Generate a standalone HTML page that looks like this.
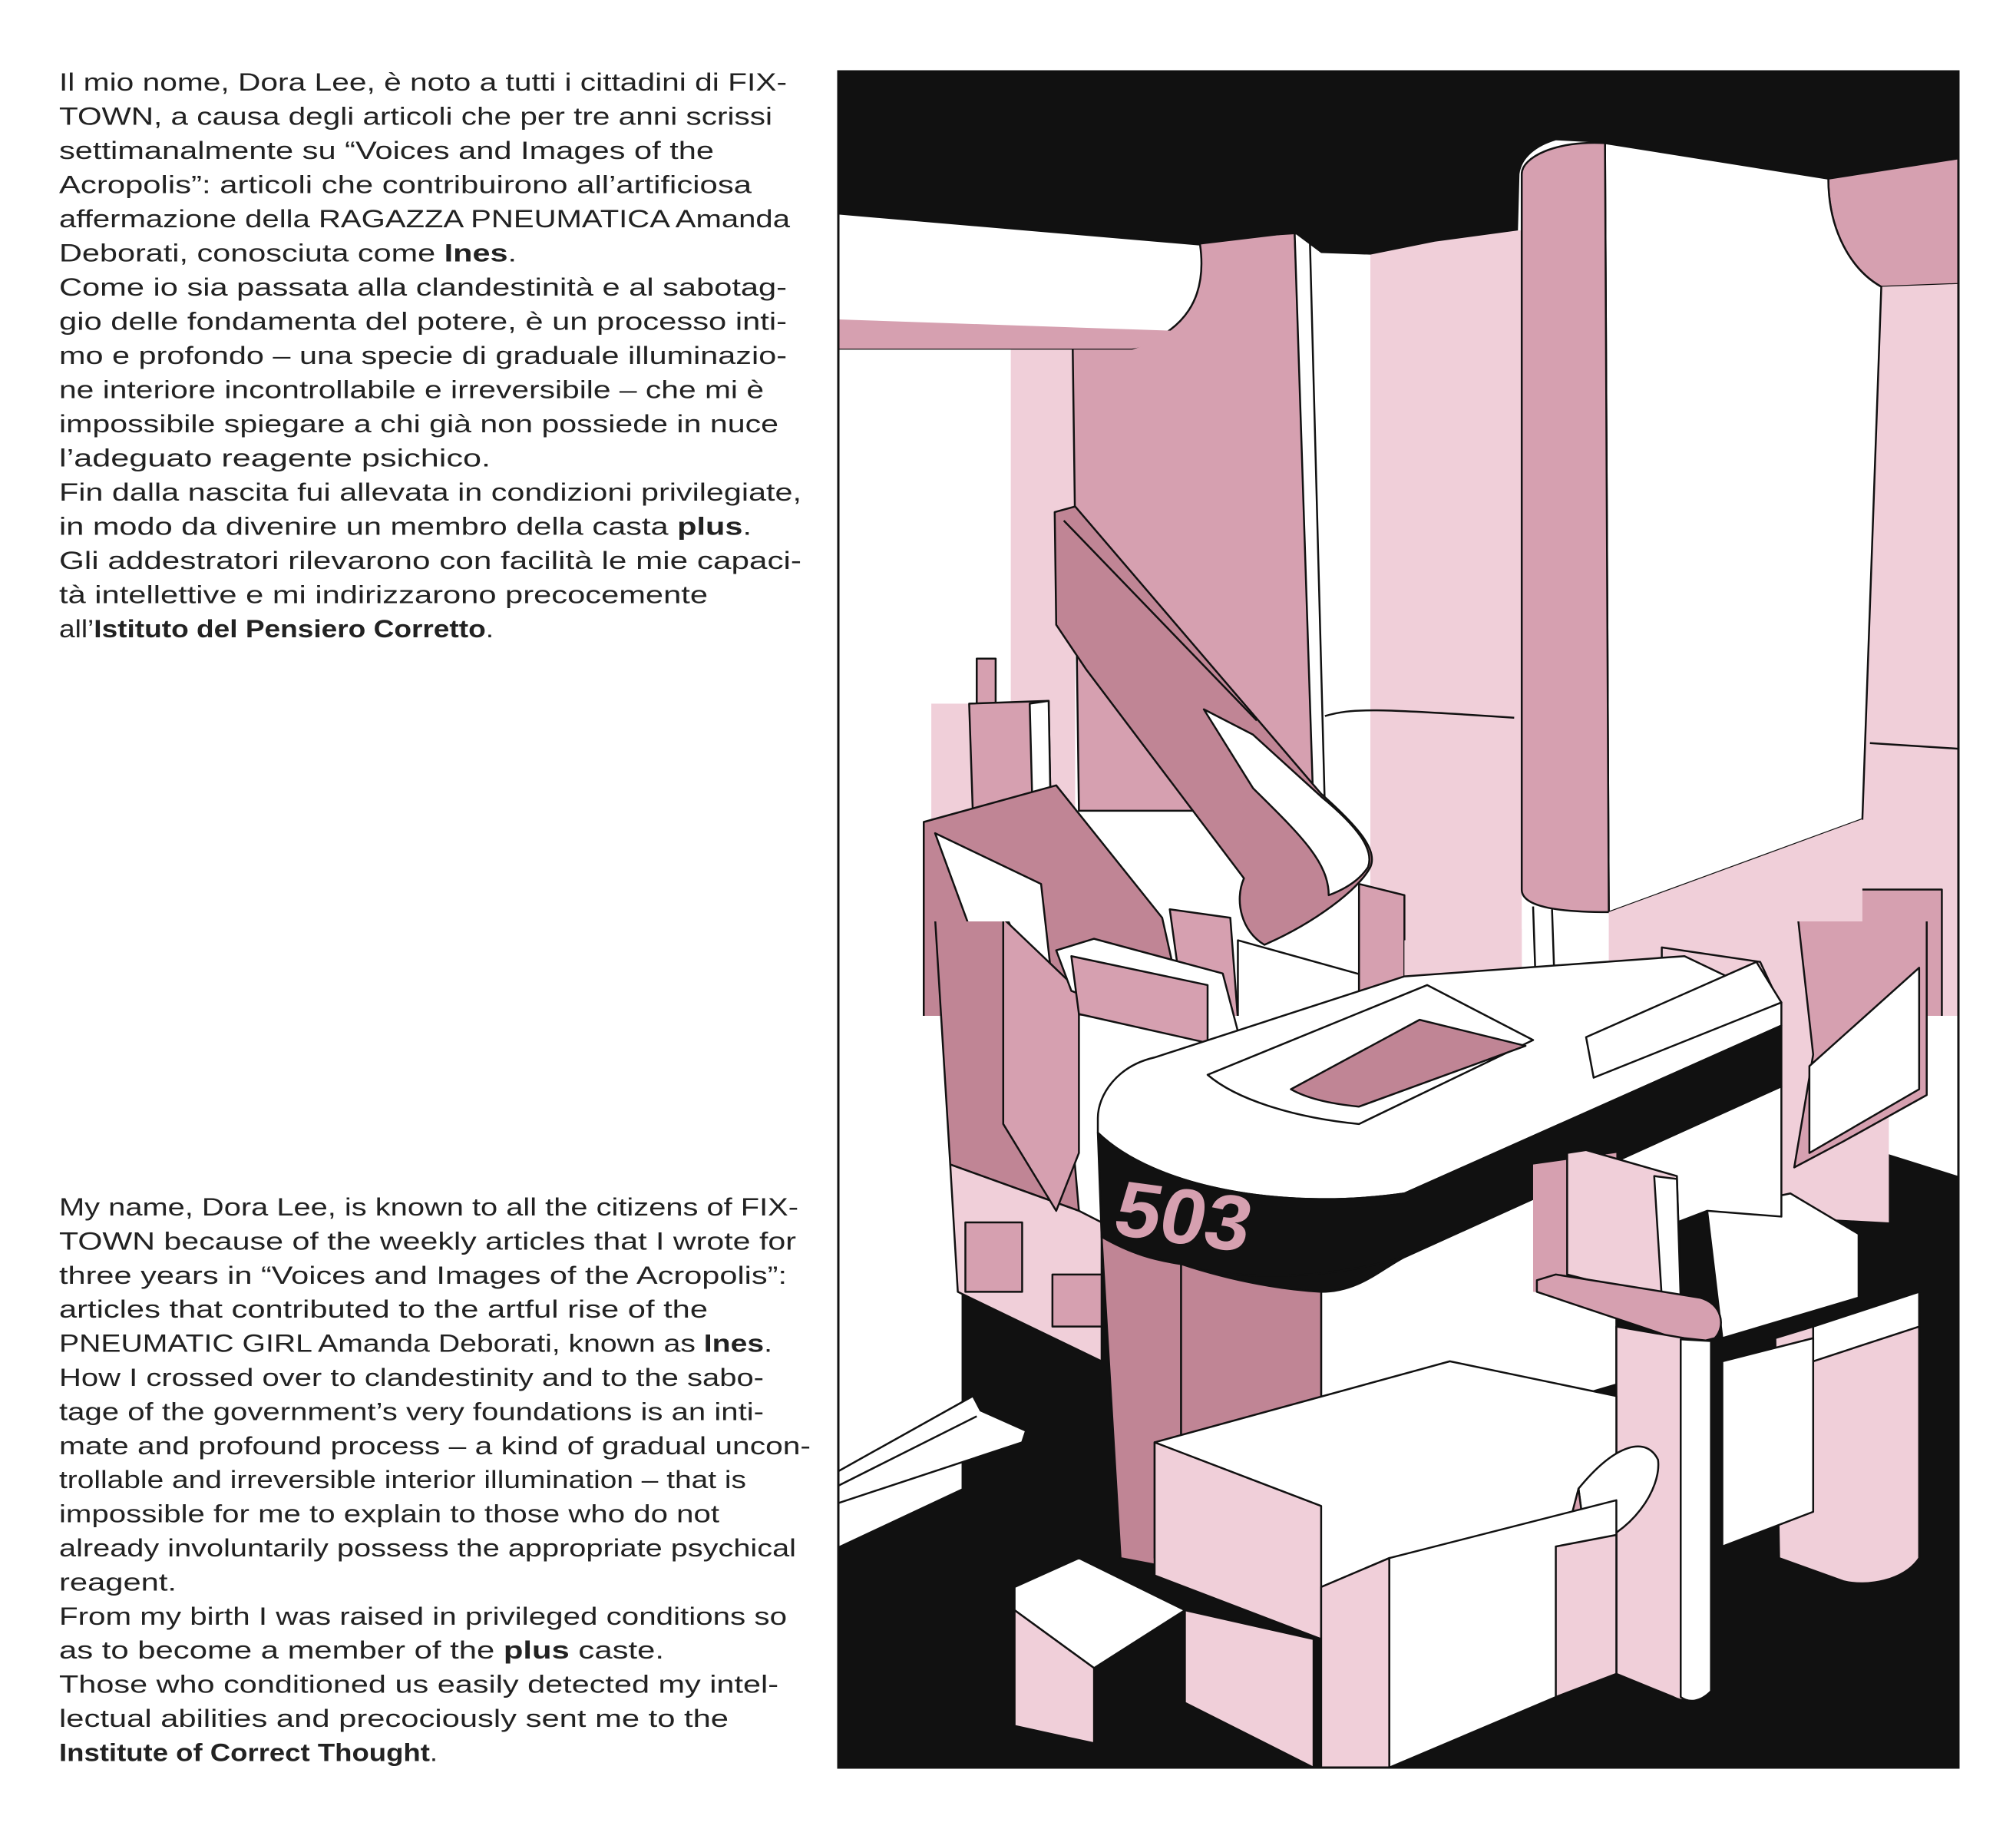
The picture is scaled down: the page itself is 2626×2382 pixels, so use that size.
<!DOCTYPE html>
<html><head><meta charset="utf-8"><style>
html,body{margin:0;padding:0;background:#fff}
svg{display:block}
.t{font-family:"Liberation Sans",sans-serif;font-size:32px;fill:#222}
.b{font-weight:bold}
</style></head><body>
<svg width="2626" height="2382" viewBox="0 0 2626 2382" xmlns="http://www.w3.org/2000/svg">
<defs>
<clipPath id="ca"><rect x="1092" y="93" width="1459" height="1230"/></clipPath>
<clipPath id="cb"><rect x="1092" y="1200" width="1459" height="1102"/></clipPath>
</defs>
<g class="t">
<text x="77" y="118" textLength="948" lengthAdjust="spacingAndGlyphs">Il mio nome, Dora Lee, è noto a tutti i cittadini di FIX-</text>
<text x="77" y="162.5" textLength="929" lengthAdjust="spacingAndGlyphs">TOWN, a causa degli articoli che per tre anni scrissi</text>
<text x="77" y="207" textLength="853" lengthAdjust="spacingAndGlyphs">settimanalmente su “Voices and Images of the</text>
<text x="77" y="251.5" textLength="902" lengthAdjust="spacingAndGlyphs">Acropolis”: articoli che contribuirono all’artificiosa</text>
<text x="77" y="296" textLength="952" lengthAdjust="spacingAndGlyphs">affermazione della RAGAZZA PNEUMATICA Amanda</text>
<text x="77" y="340.5" textLength="596" lengthAdjust="spacingAndGlyphs">Deborati, conosciuta come <tspan class="b">Ines</tspan>.</text>
<text x="77" y="385" textLength="948" lengthAdjust="spacingAndGlyphs">Come io sia passata alla clandestinità e al sabotag-</text>
<text x="77" y="429.5" textLength="948" lengthAdjust="spacingAndGlyphs">gio delle fondamenta del potere, è un processo inti-</text>
<text x="77" y="474" textLength="948" lengthAdjust="spacingAndGlyphs">mo e profondo – una specie di graduale illuminazio-</text>
<text x="77" y="518.5" textLength="918" lengthAdjust="spacingAndGlyphs">ne interiore incontrollabile e irreversibile – che mi è</text>
<text x="77" y="563" textLength="937" lengthAdjust="spacingAndGlyphs">impossibile spiegare a chi già non possiede in nuce</text>
<text x="77" y="607.5" textLength="562" lengthAdjust="spacingAndGlyphs">l’adeguato reagente psichico.</text>
<text x="77" y="652" textLength="967" lengthAdjust="spacingAndGlyphs">Fin dalla nascita fui allevata in condizioni privilegiate,</text>
<text x="77" y="696.5" textLength="902" lengthAdjust="spacingAndGlyphs">in modo da divenire un membro della casta <tspan class="b">plus</tspan>.</text>
<text x="77" y="741" textLength="967" lengthAdjust="spacingAndGlyphs">Gli addestratori rilevarono con facilità le mie capaci-</text>
<text x="77" y="785.5" textLength="845" lengthAdjust="spacingAndGlyphs">tà intellettive e mi indirizzarono precocemente</text>
<text x="77" y="830" textLength="566" lengthAdjust="spacingAndGlyphs">all’<tspan class="b">Istituto del Pensiero Corretto</tspan>.</text>

<text x="77" y="1583" textLength="963" lengthAdjust="spacingAndGlyphs">My name, Dora Lee, is known to all the citizens of FIX-</text>
<text x="77" y="1627.4" textLength="960" lengthAdjust="spacingAndGlyphs">TOWN because of the weekly articles that I wrote for</text>
<text x="77" y="1671.8" textLength="948" lengthAdjust="spacingAndGlyphs">three years in “Voices and Images of the Acropolis”:</text>
<text x="77" y="1716.2" textLength="845" lengthAdjust="spacingAndGlyphs">articles that contributed to the artful rise of the</text>
<text x="77" y="1760.6" textLength="929" lengthAdjust="spacingAndGlyphs">PNEUMATIC GIRL Amanda Deborati, known as <tspan class="b">Ines</tspan>.</text>
<text x="77" y="1805" textLength="918" lengthAdjust="spacingAndGlyphs">How I crossed over to clandestinity and to the sabo-</text>
<text x="77" y="1849.4" textLength="918" lengthAdjust="spacingAndGlyphs">tage of the government’s very foundations is an inti-</text>
<text x="77" y="1893.8" textLength="979" lengthAdjust="spacingAndGlyphs">mate and profound process – a kind of gradual uncon-</text>
<text x="77" y="1938.2" textLength="895" lengthAdjust="spacingAndGlyphs">trollable and irreversible interior illumination – that is</text>
<text x="77" y="1982.6" textLength="860" lengthAdjust="spacingAndGlyphs">impossible for me to explain to those who do not</text>
<text x="77" y="2027" textLength="960" lengthAdjust="spacingAndGlyphs">already involuntarily possess the appropriate psychical</text>
<text x="77" y="2071.4" textLength="153" lengthAdjust="spacingAndGlyphs">reagent.</text>
<text x="77" y="2115.8" textLength="948" lengthAdjust="spacingAndGlyphs">From my birth I was raised in privileged conditions so</text>
<text x="77" y="2160.2" textLength="788" lengthAdjust="spacingAndGlyphs">as to become a member of the <tspan class="b">plus</tspan> caste.</text>
<text x="77" y="2204.6" textLength="937" lengthAdjust="spacingAndGlyphs">Those who conditioned us easily detected my intel-</text>
<text x="77" y="2249" textLength="872" lengthAdjust="spacingAndGlyphs">lectual abilities and precociously sent me to the</text>
<text x="77" y="2293.4" textLength="493" lengthAdjust="spacingAndGlyphs"><tspan class="b">Institute of Correct Thought</tspan>.</text>
</g>

<rect x="1092" y="93" width="1459" height="2209" fill="#fff"/>

<g clip-path="url(#ca)">
<g transform="translate(1080,80) scale(0.986,0.7337)" stroke="#111" stroke-width="2.5" stroke-linejoin="round">
<rect x="240" y="510" width="85" height="1200" fill="#f0cfd9" stroke="none"/>
<rect x="135" y="1140" width="110" height="560" fill="#f0cfd9" stroke="none"/>
<rect x="715" y="300" width="200" height="1400" fill="#f0cfd9" stroke="none"/>
<path d="M320,330 L615,305 L645,1330 L330,1330 Z" fill="#d6a0b0" vector-effect="non-scaling-stroke"/>
<path d="M615,305 L635,310 L655,1330 L640,1335 Z" fill="#fff" vector-effect="non-scaling-stroke"/>
<path d="M12,18 L1492,18 L1492,172 L1325,210 L1030,145 L960,140 C935,150 915,170 912,200 L910,300 L800,320 L715,343 L650,340 L615,305 L490,325 L12,270 Z" fill="#111" stroke="none"/>
<path d="M12,270 L490,325 C500,420 470,480 400,510 L12,510 Z" fill="#fff" vector-effect="non-scaling-stroke"/>
<path d="M12,458 L452,478 C440,495 420,506 400,510 L12,510 Z" fill="#d6a0b0" stroke="none"/>
<path d="M655,1162 C690,1148 720,1148 905,1165" fill="none" vector-effect="non-scaling-stroke"/>
<path d="M1320,208 L1492,172 L1492,395 L1390,400 C1350,370 1320,300 1320,208 Z" fill="#d6a0b0" vector-effect="non-scaling-stroke"/>
<path d="M1390,400 L1492,395 L1492,1700 L1340,1700 L1365,1345 Z" fill="#f0cfd9" stroke="none"/>
<path d="M1375,1210 L1492,1220" fill="none" vector-effect="non-scaling-stroke"/>
<path d="M1025,145 L1320,208 C1320,300 1350,370 1390,400 L1365,1345 L1030,1510 Z" fill="#fff" vector-effect="non-scaling-stroke"/>
<path d="M1025,145 C960,140 915,170 915,200 L915,1470 C915,1500 960,1510 1030,1510 Z" fill="#d6a0b0" vector-effect="non-scaling-stroke"/>
<rect x="1300" y="1470" width="170" height="230" fill="#d6a0b0" vector-effect="non-scaling-stroke"/>
<path d="M930,1500 L935,1700 M955,1505 L960,1700" fill="none" vector-effect="non-scaling-stroke"/>
<path d="M298,800 L325,790 L650,1300 C700,1360 725,1400 715,1430 C700,1470 640,1530 575,1568 C545,1545 535,1490 548,1450 L340,1080 L300,1000 Z" fill="#c08595" vector-effect="non-scaling-stroke"/>
<path d="M310,815 L565,1170" fill="none" vector-effect="non-scaling-stroke"/>
<path d="M495,1150 L560,1195 L650,1305 C700,1360 720,1400 712,1430 C700,1455 680,1470 660,1480 C660,1420 620,1370 560,1290 Z" fill="#fff" vector-effect="non-scaling-stroke"/>
<rect x="195" y="1060" width="25" height="80" fill="#d6a0b0" vector-effect="non-scaling-stroke"/>
<path d="M185,1140 L290,1135 L295,1500 L285,1510 L275,1500 L190,1340 Z" fill="#d6a0b0" vector-effect="non-scaling-stroke"/>
<path d="M265,1140 L290,1135 L295,1500 L285,1510 L272,1500 Z" fill="#fff" vector-effect="non-scaling-stroke"/>
<path d="M125,1350 L300,1285 L440,1520 L470,1700 L125,1700 Z" fill="#c08595" vector-effect="non-scaling-stroke"/>
<path d="M140,1370 L280,1460 L300,1700 L230,1700 Z" fill="#fff" vector-effect="non-scaling-stroke"/>
<path d="M450,1505 L530,1520 L540,1700 L470,1700 Z" fill="#d6a0b0" vector-effect="non-scaling-stroke"/>
<path d="M540,1560 L700,1620 L700,1700 L540,1700 Z" fill="#fff" vector-effect="non-scaling-stroke"/>
<path d="M700,1460 L760,1480 L760,1700 L700,1700 Z" fill="#d6a0b0" vector-effect="non-scaling-stroke"/>
<path d="M760,1560 L915,1540 L915,1700 L760,1700 Z" fill="#f0cfd9" stroke="none"/>
<path d="M1030,1510 L1365,1345 L1365,1700 L1030,1700 Z" fill="#f0cfd9" stroke="none"/>
</g>
</g>

<g clip-path="url(#cb)">
<g transform="translate(1080,1200) scale(0.986,0.7538)" stroke="#111" stroke-width="2.5" stroke-linejoin="round">
<path d="M12,1080 L175,980 L175,640 L1270,400 L1370,390 L1492,440 L1492,1462 L12,1462 Z" fill="#111" stroke="none"/>
<path d="M140,-5 L235,-5 L310,200 L330,500 L160,420 Z" fill="#c08595" vector-effect="non-scaling-stroke"/>
<path d="M160,420 L330,500 L360,520 L360,760 L170,640 Z" fill="#f0cfd9" vector-effect="non-scaling-stroke"/>
<rect x="180" y="520" width="75" height="120" fill="#d6a0b0" vector-effect="non-scaling-stroke"/>
<rect x="295" y="610" width="65" height="90" fill="#d6a0b0" vector-effect="non-scaling-stroke"/>
<path d="M12,950 L190,820 L200,845 L260,880 L255,900 L12,1005 Z" fill="#fff" vector-effect="non-scaling-stroke"/>
<path d="M12,975 L195,855" fill="none" vector-effect="non-scaling-stroke"/>
<path d="M230,-5 L330,120 L330,400 L300,500 L230,350 Z" fill="#d6a0b0" vector-effect="non-scaling-stroke"/>
<path d="M300,50 L350,30 L520,90 L540,190 L500,210 L320,120 Z" fill="#fff" vector-effect="non-scaling-stroke"/>
<path d="M320,60 L500,110 L500,210 L330,160 Z" fill="#d6a0b0" vector-effect="non-scaling-stroke"/>
<path d="M1258,150 L1400,60 L1400,520 L1258,510 Z" fill="#f0cfd9" stroke="none"/>
<path d="M1280,-5 L1450,-5 L1450,300 L1340,380 L1275,425 L1300,230 Z" fill="#d6a0b0" vector-effect="non-scaling-stroke"/>
<path d="M1295,250 L1440,80 L1440,290 L1295,400 Z" fill="#fff" vector-effect="non-scaling-stroke"/>
<path d="M1100,45 L1230,70 L1255,140 L1100,200 Z" fill="#f0cfd9" vector-effect="non-scaling-stroke"/>
<path d="M1160,500 L1270,470 L1360,540 L1360,650 L1180,720 Z" fill="#fff" vector-effect="non-scaling-stroke"/>
<path d="M1250,720 L1300,700 L1440,640 L1440,1100 C1420,1140 1370,1150 1340,1140 L1255,1100 Z" fill="#f0cfd9" vector-effect="non-scaling-stroke"/>
<path d="M1300,700 L1440,640 L1440,700 L1300,760 Z" fill="#fff" vector-effect="non-scaling-stroke"/>
<path d="M1180,760 L1300,720 L1300,1020 L1180,1080 Z" fill="#fff" vector-effect="non-scaling-stroke"/>
<path d="M355,340 C355,300 380,250 430,235 L760,95 L1130,60 L1258,140 L1258,180 L760,470 C600,500 430,460 355,365 Z" fill="#fff" vector-effect="non-scaling-stroke"/>
<path d="M500,265 L790,110 L930,205 L700,350 C620,340 540,310 500,265 Z" fill="#fff" vector-effect="non-scaling-stroke"/>
<path d="M610,290 L780,170 L920,215 L700,320 C660,315 630,305 610,290 Z" fill="#c08595" vector-effect="non-scaling-stroke"/>
<path d="M1000,200 L1225,70 L1258,140 L1010,270 Z" fill="#fff" vector-effect="non-scaling-stroke"/>
<path d="M650,640 C700,640 730,600 760,580 L1258,285 L1258,510 L1160,500 L1040,560 L1040,800 L650,950 Z" fill="#fff" vector-effect="non-scaling-stroke"/>
<path d="M355,365 C430,460 600,500 760,470 L1258,180 L1258,285 L760,580 C600,640 450,610 360,545 Z" fill="#111" vector-effect="non-scaling-stroke"/>
<text x="372" y="540" font-family="Liberation Sans,sans-serif" font-weight="bold" font-size="135" fill="#d6a0b0" stroke="none" transform="rotate(10 372 540)" textLength="180" lengthAdjust="spacingAndGlyphs">503</text>
<path d="M360,545 C400,575 430,585 465,592 L465,1120 L385,1100 Z" fill="#c08595" vector-effect="non-scaling-stroke"/>
<path d="M465,592 C530,620 590,635 650,640 L650,950 L465,900 Z" fill="#c08595" vector-effect="non-scaling-stroke"/>
<path d="M930,420 L1040,400 L1040,650 L930,640 Z" fill="#d6a0b0" stroke="none"/>
<path d="M975,400 L1000,395 L1120,440 L1125,655 L1110,655 L975,610 Z" fill="#f0cfd9" vector-effect="non-scaling-stroke"/>
<path d="M1090,440 L1120,445 L1125,655 L1100,650 Z" fill="#fff" vector-effect="non-scaling-stroke"/>
<path d="M935,620 L960,610 L1150,650 C1180,660 1185,700 1170,720 L1140,730 L935,640 Z" fill="#d6a0b0" vector-effect="non-scaling-stroke"/>
<path d="M1040,700 L1130,720 L1165,725 L1165,1330 C1150,1350 1130,1350 1115,1340 L1040,1300 Z" fill="#f0cfd9" vector-effect="non-scaling-stroke"/>
<path d="M1125,722 L1165,725 L1165,1330 C1150,1350 1135,1350 1125,1340 Z" fill="#fff" vector-effect="non-scaling-stroke"/>
<path d="M430,900 L820,760 L1040,820 L1040,1060 L740,1100 L650,1150 L430,1100 Z" fill="#fff" vector-effect="non-scaling-stroke"/>
<path d="M430,900 L650,1010 L650,1240 L430,1130 Z" fill="#f0cfd9" vector-effect="non-scaling-stroke"/>
<path d="M990,980 C1040,900 1080,890 1095,930 C1100,980 1060,1060 1000,1080 Z" fill="#fff" vector-effect="non-scaling-stroke"/>
<path d="M990,980 L1000,1080 L970,1080 Z" fill="#d6a0b0" vector-effect="non-scaling-stroke"/>
<path d="M245,1150 L330,1100 L470,1190 L350,1290 L245,1190 Z" fill="#fff" vector-effect="non-scaling-stroke"/>
<path d="M245,1190 L350,1290 L350,1420 L245,1390 Z" fill="#f0cfd9" vector-effect="non-scaling-stroke"/>
<path d="M470,1190 L640,1240 L640,1462 L470,1350 Z" fill="#f0cfd9" vector-effect="non-scaling-stroke"/>
<path d="M740,1100 L1040,1000 L1040,1300 L960,1340 L740,1462 Z" fill="#fff" vector-effect="non-scaling-stroke"/>
<path d="M650,1150 L740,1100 L740,1462 L650,1462 Z" fill="#f0cfd9" vector-effect="non-scaling-stroke"/>
<path d="M960,1080 L1040,1060 L1040,1300 L960,1340 Z" fill="#f0cfd9" vector-effect="non-scaling-stroke"/>
</g>
</g>
<rect x="1092" y="93" width="1459" height="2209" fill="none" stroke="#111" stroke-width="3"/>
</svg>
</body></html>
